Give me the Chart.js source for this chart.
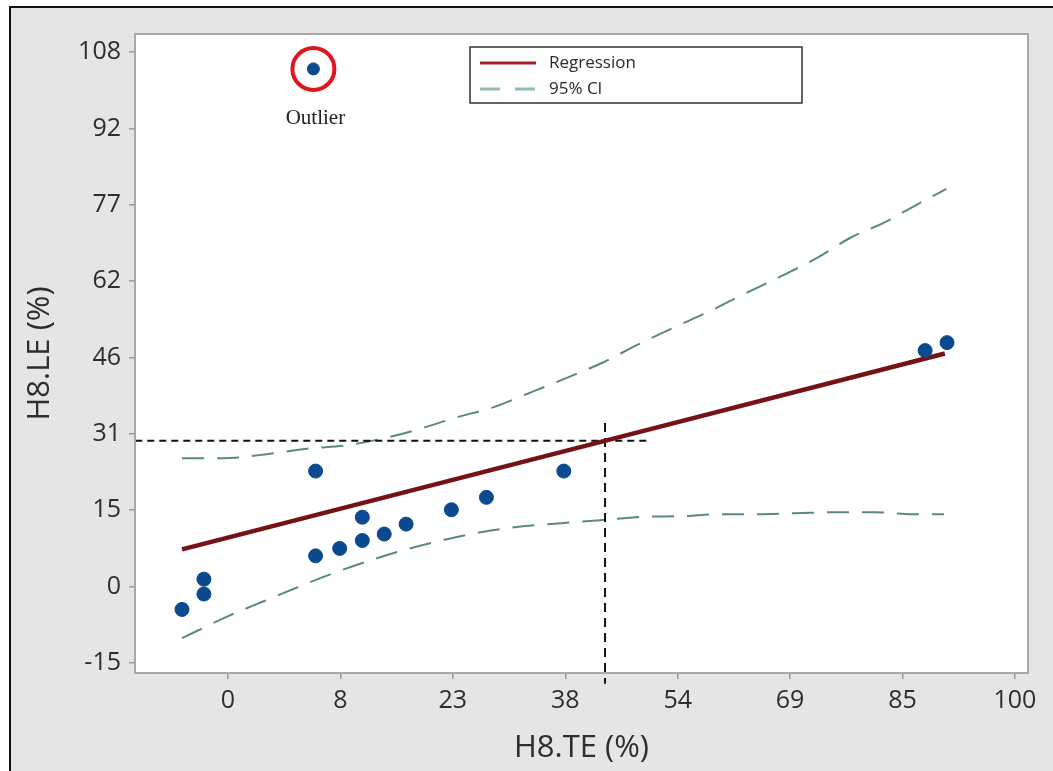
<!DOCTYPE html>
<html>
<head>
<meta charset="utf-8">
<title>H8.LE vs H8.TE</title>
<script src="https://cdn.jsdelivr.net/npm/chart.js@4.4.1/dist/chart.umd.min.js"></script>
<style>
  html, body { margin: 0; padding: 0; background: #fff; overflow: hidden; }
  #frame {
    position: absolute; left: 9px; top: 6px; width: 1044px; height: 765px;
    border-left: 2px solid #111; border-top: 2px solid #111; background: #e5e5e5;
  }
  #wrap { position: absolute; left: 0; top: 0; width: 1053px; height: 771px; }
</style>
</head>
<body>
<div id="frame"></div>
<div id="wrap"><canvas id="fitChart"></canvas></div>
<script>
// axis ticks (positions are evenly spaced, labels as printed)
const xTickValues = [-7.7, 7.7, 23.1, 38.5, 53.9, 69.3, 84.7, 100.1];
const xTickLabels = ["0", "8", "23", "38", "54", "69", "85", "100"];
const yTickValues = [-15.4, 0, 15.4, 30.8, 46.2, 61.6, 77, 92.4, 107.8];
const yTickLabels = ["-15", "0", "15", "31", "46", "62", "77", "92", "108"];

// observations
const obsX = [-14.0, -11.0, -11.0, 4.3, 4.3, 7.6, 10.7, 10.7, 13.7, 16.7, 22.9, 27.7, 38.3, 87.8, 90.8];
const obsY = [-4.6, 1.5, -1.5, 23.3, 6.2, 7.7, 14.0, 9.3, 10.6, 12.6, 15.5, 18.0, 23.3, 47.6, 49.2];
const outlierX = [4.0];
const outlierY = [104.4];

// fitted line
const regX = [-14.0, 43.9, 90.5];
const regY = [7.5, 29.4, 47.0];

// 95% confidence band
const upperX = [-14.0, -8.4, -2.4, 3.1, 9.0, 14.5, 19.0, 23.3, 28.7, 33.5, 38.7, 43.8, 48.3, 53.3, 58.1, 62.7, 67.8, 73.0, 77.5, 82.3, 87.1, 90.7];
const upperY = [25.9, 25.9, 26.7, 27.8, 28.6, 30.2, 32.0, 34.0, 36.2, 39.0, 42.1, 45.3, 48.7, 52.2, 55.4, 58.8, 62.4, 66.3, 70.3, 73.5, 77.4, 80.2];
const lowerX = [-14.0, -7.9, -2.9, 2.2, 6.7, 12.0, 17.2, 21.8, 27.5, 33.0, 38.0, 43.3, 49.2, 54.2, 59.9, 64.9, 70.1, 75.8, 80.9, 86.1, 90.4];
const lowerY = [-10.4, -6.1, -3.0, 0.1, 2.7, 5.4, 7.7, 9.4, 11.1, 12.2, 12.8, 13.4, 14.1, 14.2, 14.6, 14.6, 14.8, 15.0, 15.0, 14.6, 14.6];

// reading guide at H8.TE ~ 44
const guideHX = [-20.4, 49.7];
const guideHY = [29.4, 29.4];
const guideVX = [43.95, 43.95];
const guideVY = [33.0, -19.6];

const legendLabels = ["Regression", "95% CI"];

const toPoints = (xs, ys) => xs.map((x, i) => ({ x: x, y: ys[i] }));

const plotDecor = {
  id: "plotDecor",
  beforeDraw(chart) {
    const { ctx, chartArea: a } = chart;
    ctx.save();
    ctx.fillStyle = "#ffffff";
    ctx.fillRect(a.left, a.top, a.right - a.left, a.bottom - a.top);
    ctx.restore();
  },
  afterDraw(chart) {
    const { ctx, chartArea: a, scales } = chart;
    ctx.save();

    // plot frame
    ctx.strokeStyle = "#a9a9a9";
    ctx.lineWidth = 2;
    ctx.strokeRect(a.left, a.top, a.right - a.left, a.bottom - a.top);

    // outlier label
    const ox = scales.x.getPixelForValue(outlierX[0]);
    const oy = scales.y.getPixelForValue(outlierY[0]);
    ctx.fillStyle = "#222";
    ctx.font = '21px "Liberation Serif"';
    ctx.textAlign = "center";
    ctx.textBaseline = "middle";
    ctx.fillText("Outlier", ox + 2, oy + 50);

    // legend box
    const lx = a.left + 335, ly = a.top + 13, lw = 332, lh = 56;
    ctx.fillStyle = "#fff";
    ctx.fillRect(lx, ly, lw, lh);
    ctx.strokeStyle = "#333";
    ctx.lineWidth = 1.5;
    ctx.strokeRect(lx, ly, lw, lh);

    ctx.lineWidth = 3;
    ctx.strokeStyle = "#a3202b";
    ctx.beginPath();
    ctx.moveTo(lx + 10, ly + 16);
    ctx.lineTo(lx + 66, ly + 16);
    ctx.stroke();

    ctx.strokeStyle = "#8fbcae";
    ctx.setLineDash([20, 15]);
    ctx.beginPath();
    ctx.moveTo(lx + 10, ly + 42);
    ctx.lineTo(lx + 66, ly + 42);
    ctx.stroke();
    ctx.setLineDash([]);

    ctx.fillStyle = "#2a2a2a";
    ctx.font = '17px "Open Sans"';
    ctx.textAlign = "left";
    ctx.fillText(legendLabels[0], lx + 79, ly + 16);
    ctx.fillText(legendLabels[1], lx + 79, ly + 42);
    ctx.restore();
  }
};

const ctx = document.getElementById("fitChart");

new Chart(ctx, {
  type: "scatter",

  data: {
    datasets: [
      {
        label: "Data",
        data: toPoints(obsX, obsY),
        backgroundColor: "#0b4a8f",
        borderColor: "#0b4a8f",
        pointRadius: 7,
        order: 1,
      },
      {
        label: "Outlier",
        data: toPoints(outlierX, outlierY),
        backgroundColor: "#0b4a8f",
        borderColor: "#0b4a8f",
        pointRadius: 6,
        order: 1,
      },
      {
        label: "Outlier ring",
        data: toPoints(outlierX, outlierY),
        backgroundColor: "rgba(0,0,0,0)",
        borderColor: "#e3131f",
        pointRadius: 21,
        pointBorderWidth: 4,
        order: 2,
      },
      {
        label: legendLabels[0],
        data: toPoints(regX, regY),
        showLine: true,
        borderColor: "#761216",
        borderWidth: 4.5,
        pointRadius: 0,
        order: 3,
      },
      {
        label: "Guide H",
        data: toPoints(guideHX, guideHY),
        showLine: true,
        borderColor: "#111",
        borderWidth: 2,
        borderDash: [7, 5],
        pointRadius: 0,
        order: 4,
      },
      {
        label: "Guide V",
        data: toPoints(guideVX, guideVY),
        showLine: true,
        borderColor: "#111",
        borderWidth: 2,
        borderDash: [9, 6],
        pointRadius: 0,
        clip: false,
        order: 4,
      },
      {
        label: legendLabels[1],
        data: toPoints(upperX, upperY),
        showLine: true,
        borderColor: "#5b8a76",
        borderWidth: 2,
        borderDash: [22, 13],
        pointRadius: 0,
        cubicInterpolationMode: "monotone",
        order: 5,
      },
      {
        label: legendLabels[1] + " lower",
        data: toPoints(lowerX, lowerY),
        showLine: true,
        borderColor: "#5b8a76",
        borderWidth: 2,
        borderDash: [22, 13],
        pointRadius: 0,
        cubicInterpolationMode: "monotone",
        order: 5,
      },
    ],
  },

  options: {
    responsive: true,
    maintainAspectRatio: false,
    animation: false,

    layout: {
      padding: { left: 10, top: 34, right: 25, bottom: 0 },
    },

    plugins: {
      legend: { display: false },
      tooltip: { enabled: false },
    },

    scales: {
      x: {
        type: "linear",
        min: -20.44,
        max: 101.89,
        afterBuildTicks: (scale) => {
          scale.ticks = xTickValues.map((v) => ({ value: v }));
        },
        afterFit: (scale) => {
          scale.height = 98;
        },
        ticks: {
          autoSkip: false,
          maxRotation: 0,
          padding: 7,
          color: "#2e2e2e",
          font: { family: "Open Sans", size: 25 },
          callback: (v, i) => xTickLabels[i],
        },
        grid: {
          drawOnChartArea: false,
          tickLength: 6,
          color: "#9a9a9a",
          lineWidth: 1.5,
        },
        border: { display: false },
        title: {
          display: true,
          text: "H8.TE (%)",
          color: "#2e2e2e",
          font: { family: "Open Sans", size: 31 },
          padding: { top: 0, bottom: 4 },
        },
      },

      y: {
        type: "linear",
        min: -17.42,
        max: 111.44,
        afterBuildTicks: (scale) => {
          scale.ticks = yTickValues.map((v) => ({ value: v }));
        },
        afterFit: (scale) => {
          scale.width = 125;
        },
        ticks: {
          autoSkip: false,
          padding: 8,
          color: "#2e2e2e",
          font: { family: "Open Sans", size: 25 },
          callback: (v, i) => yTickLabels[i],
        },
        grid: {
          drawOnChartArea: false,
          tickLength: 6,
          color: "#9a9a9a",
          lineWidth: 1.5,
        },
        border: { display: false },
        title: {
          display: true,
          text: "H8.LE (%)",
          color: "#2e2e2e",
          font: { family: "Open Sans", size: 31 },
          padding: { top: 12, bottom: 0 },
        },
      },
    },
  },

  plugins: [plotDecor],
});
</script>
</body>
</html>
